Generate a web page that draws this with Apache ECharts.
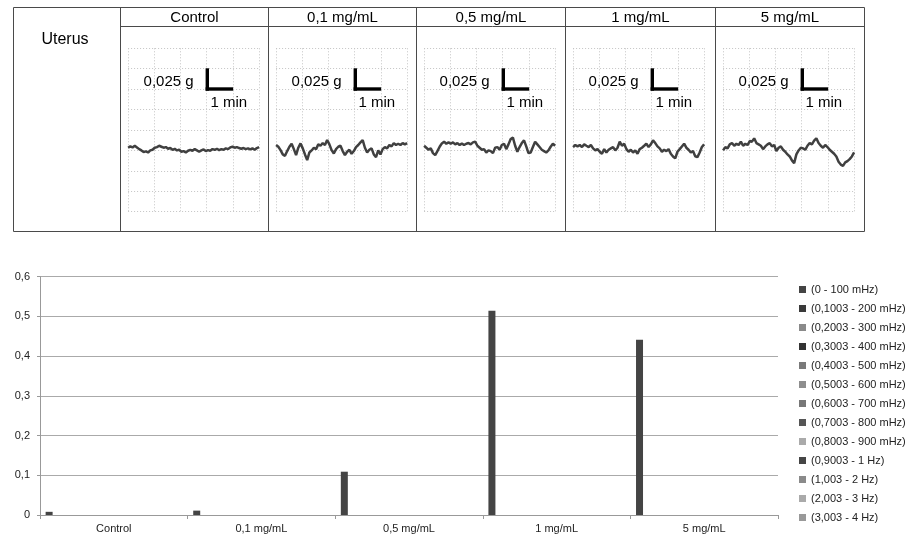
<!DOCTYPE html>
<html><head><meta charset="utf-8">
<script src="https://cdn.jsdelivr.net/npm/echarts@6/dist/echarts.min.js"></script>
<style>html,body{margin:0;padding:0;background:#fff}#c{width:906px;height:536px}</style>
</head><body><div id="c"></div>
<script>
// ---- data ----
const conditions = ['Control', '0,1 mg/mL', '0,5 mg/mL', '1 mg/mL', '5 mg/mL'];
const tissue = 'Uterus';
// uterine force traces (mg), 60 evenly spaced samples over 5 min
const traceControl = [78.3,79.9,78.7,80.7,78.7,76.6,75,73,73.8,72.5,75,75.8,78.3,79.1,80.7,79.5,78.3,79.1,77,77.9,75.8,77,75,75.8,73.4,74.2,72.5,74.6,75.8,74.6,76.6,75,73.4,75,76.2,74.2,75.4,74.6,76.6,75.8,77,75.4,76.6,75.8,77.5,76.6,78.7,79.5,78.3,79.1,77.9,77,77.9,76.6,77.5,76.2,77.5,75.8,77.9,79.1];
const trace01 = [81.6,79.5,75.4,70.1,68.4,74.2,79.5,83.2,76.6,69.3,78.3,83.6,77.5,70.1,63.1,72.5,75,78.3,76.6,82.4,80.7,84,81.6,87.7,82.4,75.4,71.3,76.6,79.5,80.7,74.2,69.3,73.4,75.8,70.9,74.2,79.1,81.6,84.8,87.7,78.3,72.5,75.8,77.5,70.1,66.8,75,70.1,76.6,79.1,77.5,81.6,79.9,84,81.6,83.2,81.6,84,82.4,84];
const trace05 = [80.7,78.3,75.8,77.5,71.7,69.3,74.2,79.5,83.6,85.7,83.2,84.8,83.2,84.8,82.4,84,81.6,83.6,81.6,83.2,84,82.4,84.8,85.7,80.7,78.3,75.8,76.6,72.5,75,74.2,71.7,78.3,79.1,75.8,81.6,83.2,76.6,82.4,88.9,90.6,80.7,73.4,79.1,84,87.3,79.9,71.7,72.5,79.1,85.7,82.4,79.1,75.8,74.2,72.5,75,79.5,83.2,80.7];
const trace1 = [79.1,81.6,79.9,81.6,79.1,82.4,80.7,79.1,81.6,77.5,75,76.6,73.4,70.9,76.6,72.5,75.8,77.5,79.1,75,78.3,85.7,80.7,83.2,76.6,73.4,75.8,72.5,75,70.9,76.6,78.3,80.7,83.2,79.1,82.4,87.3,84,79.9,77.5,73.4,75.8,74.2,76.6,70.9,67.6,65.2,73.4,76.6,79.9,83.2,78.3,75.8,72.5,74.2,67.9,66.8,72.5,79.1,82.4];
const trace5 = [75,79.1,77.5,82.4,84,80.7,83.2,81.6,85.7,80.7,83.2,81.6,86.5,85.7,89.8,84,82.4,80.7,76.6,79.9,82.4,84,79.9,81.6,74.2,78.3,79.9,75.8,73.4,70.1,67.6,62.7,59.4,70.1,75,78.3,77.5,75.8,80.7,84,82.4,86.9,89.8,84,80.7,78.3,81.6,79.1,75.8,73.4,70.9,67.6,61.1,57.7,56.1,60.3,61.9,64.3,67.6,72.5];
const traces = [traceControl, trace01, trace05, trace1, trace5];
const traceMinutes = 5;

// power per frequency band
const bandNames = ['(0 - 100 mHz)', '(0,1003 - 200 mHz)', '(0,2003 - 300 mHz)', '(0,3003 - 400 mHz)', '(0,4003 - 500 mHz)', '(0,5003 - 600 mHz)', '(0,6003 - 700 mHz)', '(0,7003 - 800 mHz)', '(0,8003 - 900 mHz)', '(0,9003 - 1 Hz)', '(1,003 - 2 Hz)', '(2,003 - 3 Hz)', '(3,003 - 4 Hz)'];
const band0to100 = [0.008, 0.011, 0.109, 0.514, 0.441];
const bandOther = [0, 0, 0, 0, 0];
const yTicks = [0, 0.1, 0.2, 0.3, 0.4, 0.5, 0.6];

// ---- styles / layout ----
const bandColors = ['#444444', '#3a3a3a', '#8a8a8a', '#333333', '#7a7a7a', '#8e8e8e', '#777777', '#555555', '#aaaaaa', '#454545', '#8a8a8a', '#aaaaaa', '#999999'];
const FONT = 'Liberation Sans, Arial, sans-serif';
const colX = [13.5, 120.5, 268.5, 416.5, 565.5, 715.5, 864.5];
const tTop = 7.5, tHead = 26.5, tBot = 231.5;
const gTop = 48.3, gH = 163.4, gW = 131, gOff = 7.6;

const grids = [], xAxes = [], yAxes = [], series = [], graphics = [];
const lineStyle = {stroke: '#4a4a4a', lineWidth: 1};

// table lines
graphics.push({type: 'line', shape: {x1: colX[0], y1: tTop, x2: colX[6], y2: tTop}, style: lineStyle});
graphics.push({type: 'line', shape: {x1: colX[1], y1: tHead, x2: colX[6], y2: tHead}, style: lineStyle});
graphics.push({type: 'line', shape: {x1: colX[0], y1: tBot, x2: colX[6], y2: tBot}, style: lineStyle});
colX.forEach(x => graphics.push({type: 'line', shape: {x1: x, y1: tTop, x2: x, y2: tBot}, style: lineStyle}));
graphics.push({type: 'text', x: 65, y: 39.5, style: {text: tissue, font: '16px ' + FONT, fill: '#000', align: 'center', verticalAlign: 'middle'}});

conditions.forEach((c, i) => {
  const cx = (colX[i + 1] + colX[i + 2]) / 2;
  graphics.push({type: 'text', x: cx, y: 17.5, style: {text: c, font: '15px ' + FONT, fill: '#000', align: 'center', verticalAlign: 'middle'}});
  const gl = colX[i + 1] + gOff;
  grids.push({left: gl, top: gTop, width: gW, height: gH});
  const split = {show: true, lineStyle: {color: '#c4c4c4', type: [1, 2], width: 1}};
  xAxes.push({type: 'value', gridIndex: i, min: 0, max: traceMinutes, interval: 1, axisLine: {show: false}, axisTick: {show: false}, axisLabel: {show: false}, splitLine: split});
  yAxes.push({type: 'value', gridIndex: i, min: 0, max: 200, interval: 25, axisLine: {show: false}, axisTick: {show: false}, axisLabel: {show: false}, splitLine: split});
  const tr = traces[i];
  series.push({type: 'line', xAxisIndex: i, yAxisIndex: i, symbol: 'none', silent: true,
    data: tr.map((v, k) => [k * traceMinutes / (tr.length - 1), v]),
    lineStyle: {color: '#404040', width: 2.5}});
  // scale bar
  graphics.push({type: 'text', z: 50, x: gl + 65.5, y: 81.7, style: {text: '0,025 g', font: '15px ' + FONT, fill: '#000', align: 'right', verticalAlign: 'middle'}});
  graphics.push({type: 'rect', z: 50, shape: {x: gl + 77.5, y: 68.3, width: 3.4, height: 22.4}, style: {fill: '#000'}});
  graphics.push({type: 'rect', z: 50, shape: {x: gl + 77.5, y: 87.3, width: 27.5, height: 3.4}, style: {fill: '#000'}});
  graphics.push({type: 'text', z: 50, x: gl + 82.4, y: 103.3, style: {text: '1 min', font: '15px ' + FONT, fill: '#000', align: 'left', verticalAlign: 'middle'}});
});

// bar chart
const bi = conditions.length;
grids.push({left: 40, top: 276.7, width: 738, height: 238.3});
xAxes.push({type: 'category', gridIndex: bi, data: conditions,
  axisLine: {lineStyle: {color: '#999'}}, axisTick: {show: true, length: 4, lineStyle: {color: '#999'}},
  axisLabel: {color: '#222', fontSize: 11, fontFamily: FONT, margin: 8}, splitLine: {show: false}});
yAxes.push({type: 'value', gridIndex: bi, min: yTicks[0], max: yTicks[yTicks.length - 1], interval: 0.1,
  axisLine: {show: true, lineStyle: {color: '#999'}}, axisTick: {show: true, length: 3, lineStyle: {color: '#999'}},
  axisLabel: {color: '#222', fontSize: 11, fontFamily: FONT, margin: 10, formatter: v => String(+v.toFixed(1)).replace('.', ',')},
  splitLine: {show: true, lineStyle: {color: '#aaa', width: 1}}});
bandNames.forEach((n, k) => {
  series.push({type: 'bar', name: n, xAxisIndex: bi, yAxisIndex: bi, data: k === 0 ? band0to100 : bandOther,
    barWidth: 7, barGap: '54%', itemStyle: {color: bandColors[k]}, silent: true});
});

const chart = echarts.init(document.getElementById('c'), null, {renderer: 'canvas'});
chart.setOption({
  animation: false,
  backgroundColor: '#fff',
  grid: grids, xAxis: xAxes, yAxis: yAxes, series: series,
  legend: {data: bandNames, orient: 'vertical', left: 794, top: 279, icon: 'rect', itemWidth: 7, itemHeight: 7,
    itemGap: 8, textStyle: {fontSize: 11, fontFamily: FONT, color: '#222'}, selectedMode: false},
  graphic: graphics
});
</script></body></html>
